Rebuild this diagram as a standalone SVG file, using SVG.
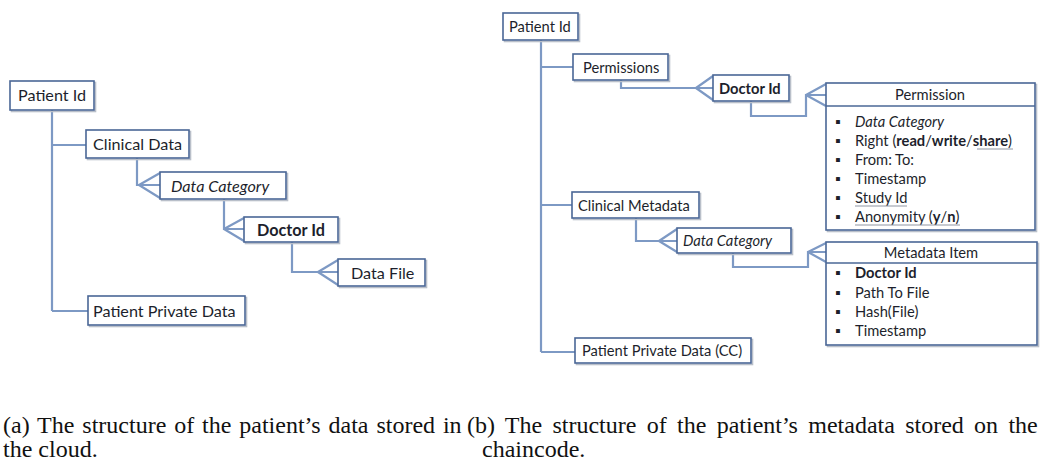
<svg xmlns="http://www.w3.org/2000/svg" width="1040" height="462" viewBox="0 0 1040 462">
  <style>
    .box { fill: #ffffff; stroke: #4a6796; stroke-width: 1.6; }
    .shadow { fill: none; stroke: #b9bfc9; stroke-width: 1.6; }
    .link { fill: none; stroke: #7d99c4; stroke-width: 2.2; stroke-linejoin: miter; }
    .lbl { font-family: Lato, "Open Sans", "Liberation Sans", sans-serif; font-size: 14.7px; fill: #1d1f2c; }
    .big { font-size: 16.2px; }
    .it { font-style: italic; }
    .b { font-weight: bold; }
    .mid { text-anchor: middle; }
    .ul { stroke: #8f96a3; stroke-width: 1; }
    .cap { font-family: "Liberation Serif", "Times New Roman", serif; font-size: 24px; fill: #111111; }
  </style>

  <!-- connectors -->
  <g id="connectors">
    <!-- left tree -->
    <path class="link" d="M52,110 V311 M52,145 H86 M52,311 H88"/>
    <path class="link" d="M137,158 V185 H160 M139,185 L160,173 M139,185 L160,198"/>
    <path class="link" d="M224,199 V229 H244 M224,229 L244,218 M224,229 L244,241"/>
    <path class="link" d="M292,242 V272 H338 M318,272 L338,260 M318,272 L338,285"/>
    <!-- right tree -->
    <path class="link" d="M541,40 V352 M541,67 H573 M541,205 H572 M541,352 H575"/>
    <path class="link" d="M621,80 V88 H713 M696,88 L713,76 M696,88 L713,100"/>
    <path class="link" d="M751,101 V116 H806 V95 H826 M806,95 L826,84 M806,95 L826,106"/>
    <path class="link" d="M636,218 V241 H677 M659,241 L677,229 M659,241 L677,252"/>
    <path class="link" d="M733,253 V267 H808 V252 H826 M808,252 L826,243 M808,252 L826,262"/>
  </g>

  <!-- left tree nodes -->
  <g id="a-patient-id">
    <rect class="shadow" x="11.5" y="82.5" width="84" height="29"/>
    <rect class="box" x="10" y="81" width="84" height="29"/>
    <text class="lbl big" x="18" y="101">Patient Id</text>
  </g>
  <g id="a-clinical-data">
    <rect class="shadow" x="87.5" y="131.5" width="103" height="28"/>
    <rect class="box" x="86" y="130" width="103" height="28"/>
    <text class="lbl big" x="93" y="150">Clinical Data</text>
  </g>
  <g id="a-data-category">
    <rect class="shadow" x="161.5" y="173.5" width="126" height="27"/>
    <rect class="box" x="160" y="172" width="126" height="27"/>
    <text class="lbl big it" x="171" y="191.5">Data Category</text>
  </g>
  <g id="a-doctor-id">
    <rect class="shadow" x="245.5" y="218.5" width="94" height="25"/>
    <rect class="box" x="244" y="217" width="94" height="25"/>
    <text class="lbl big b mid" x="291" y="235.5">Doctor Id</text>
  </g>
  <g id="a-data-file">
    <rect class="shadow" x="339.5" y="260.5" width="87" height="27"/>
    <rect class="box" x="338" y="259" width="87" height="27"/>
    <text class="lbl big" x="351" y="278.5">Data File</text>
  </g>
  <g id="a-patient-private-data">
    <rect class="shadow" x="89.5" y="297.5" width="157" height="29"/>
    <rect class="box" x="88" y="296" width="157" height="29"/>
    <text class="lbl big" x="93" y="316.5">Patient Private Data</text>
  </g>

  <!-- right tree nodes -->
  <g id="b-patient-id">
    <rect class="shadow" x="504.5" y="14.5" width="75" height="27"/>
    <rect class="box" x="503" y="13" width="75" height="27"/>
    <text class="lbl" x="509" y="32">Patient Id</text>
  </g>
  <g id="b-permissions">
    <rect class="shadow" x="574.5" y="55.5" width="95" height="26"/>
    <rect class="box" x="573" y="54" width="95" height="26"/>
    <text class="lbl" x="583" y="72.5">Permissions</text>
  </g>
  <g id="b-doctor-id">
    <rect class="shadow" x="714.5" y="76.5" width="76" height="26"/>
    <rect class="box" x="713" y="75" width="76" height="26"/>
    <text class="lbl b" x="719" y="93.5">Doctor Id</text>
  </g>
  <g id="b-clinical-metadata">
    <rect class="shadow" x="573.5" y="193.5" width="127" height="26"/>
    <rect class="box" x="572" y="192" width="127" height="26"/>
    <text class="lbl" x="578" y="210.5">Clinical Metadata</text>
  </g>
  <g id="b-data-category">
    <rect class="shadow" x="678.5" y="229.5" width="114" height="25"/>
    <rect class="box" x="677" y="228" width="114" height="25"/>
    <text class="lbl it" x="683" y="246">Data Category</text>
  </g>
  <g id="b-patient-private-data-cc">
    <rect class="shadow" x="576.5" y="339.5" width="176" height="25"/>
    <rect class="box" x="575" y="338" width="176" height="25"/>
    <text class="lbl" x="582" y="356">Patient Private Data (CC)</text>
  </g>

  <g id="b-permission">
    <rect class="shadow" x="827.5" y="84.5" width="209" height="147"/>
    <rect class="box" x="826" y="83" width="209" height="147"/>
    <line class="box" x1="826" y1="106" x2="1035" y2="106"/>
    <text class="lbl mid" x="930" y="100">Permission</text>
    <g class="lbl">
      <text x="835" y="126.5">▪</text><text class="it" x="855" y="126.5">Data Category</text>
      <text x="835" y="145.5">▪</text><text x="855" y="145.5">Right (<tspan class="b">read</tspan>/<tspan class="b">write</tspan>/<tspan class="b">share</tspan>)</text>
      <text x="835" y="164.5">▪</text><text x="855" y="164.5">From: To:</text>
      <text x="835" y="183.5">▪</text><text x="855" y="183.5">Timestamp</text>
      <text x="835" y="202.5">▪</text><text x="855" y="202.5">Study Id</text>
      <text x="835" y="221.5">▪</text><text x="855" y="221.5">Anonymity (<tspan class="b">y</tspan>/<tspan class="b">n</tspan>)</text>
    </g>
    <line class="ul" x1="977" y1="149" x2="1013" y2="149"/>
    <line class="ul" x1="855" y1="206" x2="907" y2="206"/>
    <line class="ul" x1="855" y1="225" x2="960" y2="225"/>
  </g>

  <g id="b-metadata-item">
    <rect class="shadow" x="827.5" y="243.5" width="211" height="103"/>
    <rect class="box" x="826" y="242" width="211" height="103"/>
    <line class="box" x1="826" y1="263" x2="1037" y2="263"/>
    <text class="lbl mid" x="931" y="258">Metadata Item</text>
    <g class="lbl">
      <text x="835" y="278">▪</text><text class="b" x="855" y="278">Doctor Id</text>
      <text x="835" y="297.5">▪</text><text x="855" y="297.5">Path To File</text>
      <text x="835" y="316.5">▪</text><text x="855" y="316.5">Hash(File)</text>
      <text x="835" y="335.5">▪</text><text x="855" y="335.5">Timestamp</text>
    </g>
  </g>

  <!-- sub-figure captions (justified by word spacing) -->
  <g id="captions">
    <text class="cap" x="3" y="433" word-spacing="1.9">(a) The structure of the patient’s data stored in</text>
    <text class="cap" x="3" y="457">the cloud.</text>
    <text class="cap" x="467" y="433" word-spacing="4.3">(b) The structure of the patient’s metadata stored on the</text>
    <text class="cap" x="482" y="457">chaincode.</text>
  </g>
</svg>
